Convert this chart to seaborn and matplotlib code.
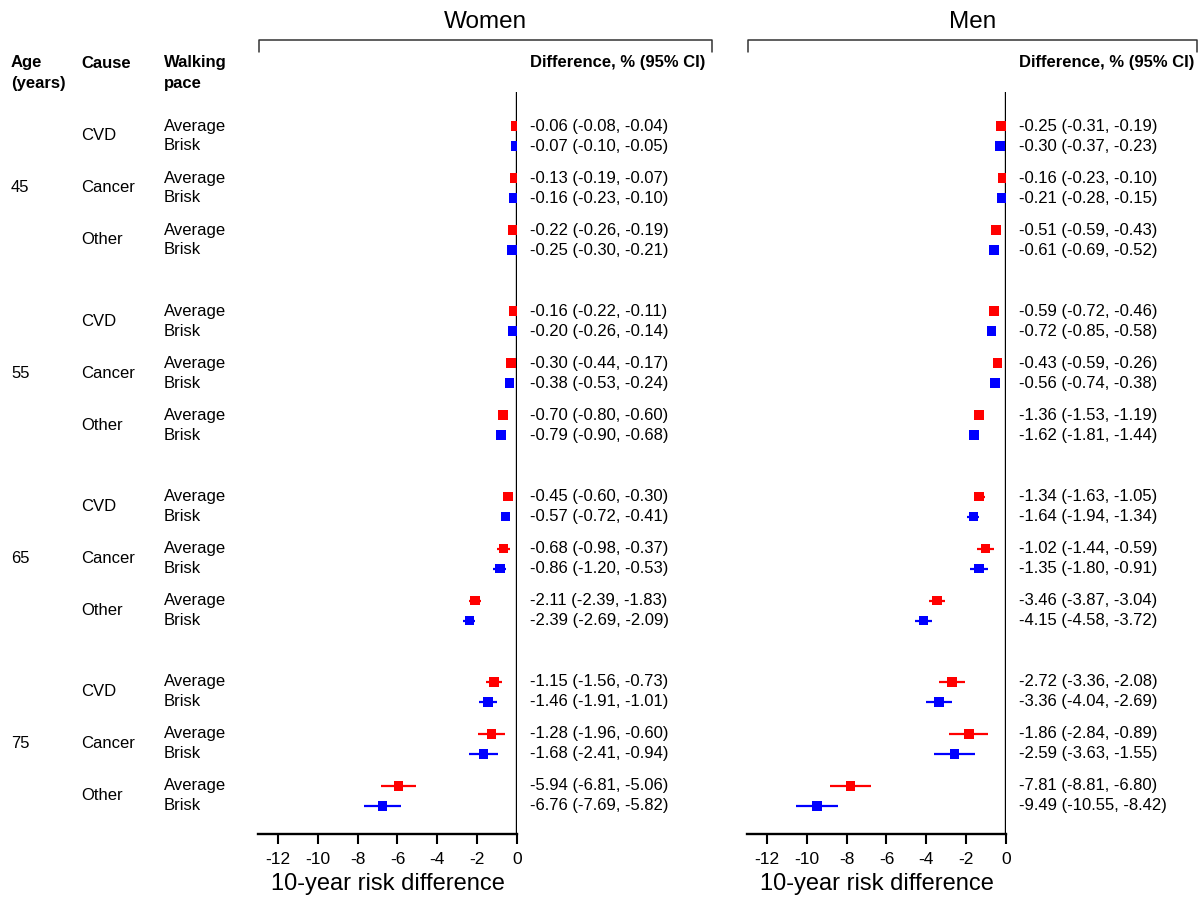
import numpy as np
import pandas as pd
import seaborn as sns
import matplotlib.pyplot as plt
from matplotlib.lines import Line2D
from matplotlib import transforms

ages = ["45", "55", "65", "75"]
causes = ["CVD", "Cancer", "Other"]
paces = ["Average", "Brisk"]

# ordered age -> cause -> pace
women_est = [-0.06, -0.07, -0.13, -0.16, -0.22, -0.25,
             -0.16, -0.20, -0.30, -0.38, -0.70, -0.79,
             -0.45, -0.57, -0.68, -0.86, -2.11, -2.39,
             -1.15, -1.46, -1.28, -1.68, -5.94, -6.76]
women_lo = [-0.08, -0.10, -0.19, -0.23, -0.26, -0.30,
            -0.22, -0.26, -0.44, -0.53, -0.80, -0.90,
            -0.60, -0.72, -0.98, -1.20, -2.39, -2.69,
            -1.56, -1.91, -1.96, -2.41, -6.81, -7.69]
women_hi = [-0.04, -0.05, -0.07, -0.10, -0.19, -0.21,
            -0.11, -0.14, -0.17, -0.24, -0.60, -0.68,
            -0.30, -0.41, -0.37, -0.53, -1.83, -2.09,
            -0.73, -1.01, -0.60, -0.94, -5.06, -5.82]

men_est = [-0.25, -0.30, -0.16, -0.21, -0.51, -0.61,
           -0.59, -0.72, -0.43, -0.56, -1.36, -1.62,
           -1.34, -1.64, -1.02, -1.35, -3.46, -4.15,
           -2.72, -3.36, -1.86, -2.59, -7.81, -9.49]
men_lo = [-0.31, -0.37, -0.23, -0.28, -0.59, -0.69,
          -0.72, -0.85, -0.59, -0.74, -1.53, -1.81,
          -1.63, -1.94, -1.44, -1.80, -3.87, -4.58,
          -3.36, -4.04, -2.84, -3.63, -8.81, -10.55]
men_hi = [-0.19, -0.23, -0.10, -0.15, -0.43, -0.52,
          -0.46, -0.58, -0.26, -0.38, -1.19, -1.44,
          -1.05, -1.34, -0.59, -0.91, -3.04, -3.72,
          -2.08, -2.69, -0.89, -1.55, -6.80, -8.42]

xticks = [-12, -10, -8, -6, -4, -2, 0]

sns.set_style("white")
plt.rcParams['font.family'] = ['Liberation Sans', 'DejaVu Sans']
plt.rcParams['axes.unicode_minus'] = False
plt.rcParams['text.color'] = 'black'
plt.rcParams['axes.labelcolor'] = 'black'
plt.rcParams['xtick.color'] = 'black'
plt.rcParams['xtick.bottom'] = True

TOP = 126  # pixel row of first estimate

# row layout (pixel-like units, top row = 0)
rows = []
for ai, a in enumerate(ages):
    for ci, c in enumerate(causes):
        for pi, p in enumerate(paces):
            rows.append((a, c, p, ai * 185.3 + ci * 52 + pi * 20))
base = pd.DataFrame(rows, columns=["age", "cause", "pace", "ypos"])

colors = {"Average": "#ff0000", "Brisk": "#0000ff"}

fig = plt.figure(figsize=(11.98, 8.98), dpi=100)
W, H = 1198, 898


def panel(left_px, est, lo, hi):
    ax = fig.add_axes([left_px / W, 1 - 834 / H, 259 / W, (834 - 92) / H])
    df = base.copy()
    df["est"], df["lo"], df["hi"] = est, lo, hi
    for pace, g in df.groupby("pace"):
        ax.hlines(g["ypos"], g["lo"], g["hi"], color=colors[pace], lw=1.6, zorder=3)
    sns.scatterplot(data=df, x="est", y="ypos", hue="pace", palette=colors,
                    marker="s", s=48, linewidth=0, legend=False, ax=ax, zorder=4)
    ax.axvline(0, color="black", lw=1.7, zorder=2)
    ax.set_xlim(-13, 0)
    ax.set_ylim(834 - TOP, 92 - TOP)
    ax.set_yticks([])
    ax.set_ylabel("")
    ax.set_xticks(xticks)
    ax.set_xticklabels([str(t) for t in xticks], fontsize=12.5)
    ax.tick_params(axis="x", direction="out", length=7, width=1.5, pad=6,
                   bottom=True, colors="black")
    ax.set_xlabel("10-year risk difference", fontsize=17, labelpad=4)
    for s in ["top", "right", "left"]:
        ax.spines[s].set_visible(False)
    ax.spines["bottom"].set_linewidth(1.7)
    ax.spines["bottom"].set_color("black")
    for _, r in df.iterrows():
        ax.text(0.66, r["ypos"], f"{r['est']:.2f} ({r['lo']:.2f}, {r['hi']:.2f})",
                fontsize=12, va="center", ha="left", clip_on=False)
    ax.text(0.66, 62 - TOP, "Difference, % (95% CI)", fontsize=12,
            fontweight="bold", va="center", ha="left")
    return ax


axw = panel(258, women_est, women_lo, women_hi)
axm = panel(747, men_est, men_lo, men_hi)

# bracket headers
for x0, x1, title in [(259, 712, "Women"), (748, 1197, "Men")]:
    fig.add_artist(Line2D([x0 / W, x0 / W, x1 / W, x1 / W],
                          [1 - 52 / H, 1 - 40 / H, 1 - 40 / H, 1 - 52 / H],
                          color="#333333", lw=1.1))
    fig.text((x0 + x1) / 2 / W, 1 - 22 / H, title, fontsize=17.5,
             ha="center", va="center")

# left-side label columns
tr = transforms.blended_transform_factory(fig.transFigure, axw.transData)
for ai, a in enumerate(ages):
    g = base[base["age"] == a]
    fig.text(11 / W, g["ypos"].mean(), a, fontsize=12, va="center", transform=tr)
    for c in causes:
        gc = g[g["cause"] == c]
        fig.text(81 / W, gc["ypos"].mean(), c, fontsize=12, va="center", transform=tr)
        for _, r in gc.iterrows():
            fig.text(164 / W, r["ypos"], r["pace"], fontsize=12, va="center", transform=tr)

fig.text(11 / W, 1 - 73 / H, "Age\n(years)", fontsize=12, fontweight="bold",
         va="center", linespacing=1.45)
fig.text(81 / W, 1 - 63 / H, "Cause", fontsize=12, fontweight="bold", va="center")
fig.text(164 / W, 1 - 73 / H, "Walking\npace", fontsize=12, fontweight="bold",
         va="center", linespacing=1.45)

fig.savefig("out.png", dpi=100)
